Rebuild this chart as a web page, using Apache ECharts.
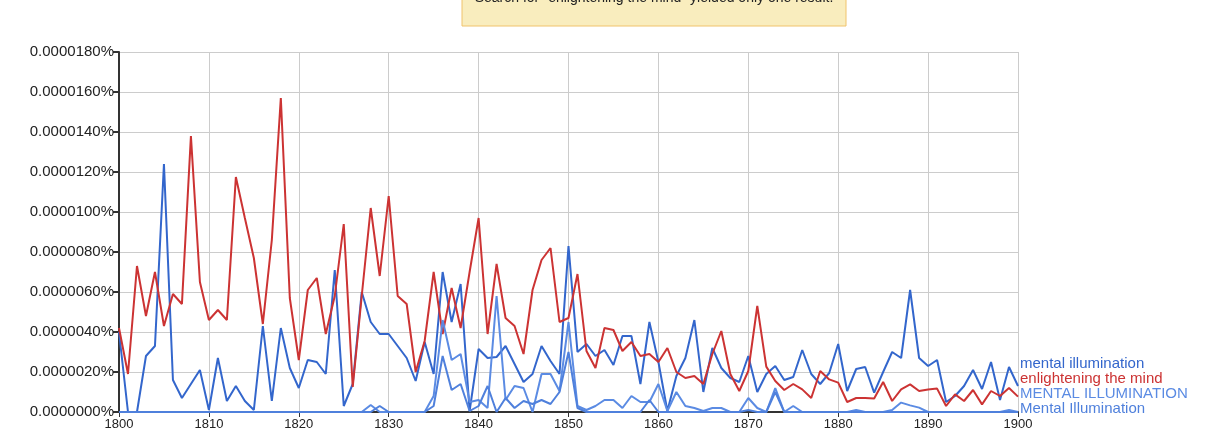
<!DOCTYPE html>
<html><head><meta charset="utf-8">
<script src="https://cdn.jsdelivr.net/npm/echarts@6/dist/echarts.min.js"></script>
<style>html,body{margin:0;padding:0;background:#fff}#c{width:1225px;height:445px}</style>
</head><body><div id="c"></div>
<script>
// Values are in units of 0.0000001 %
const startYear = 1800, endYear = 1900;
const years = [];
for (let y = startYear; y <= endYear; y++) years.push(y);

const seriesNames = ['mental illumination', 'enlightening the mind', 'MENTAL ILLUMINATION', 'Mental Illumination'];

const mentalIllumination = [40,0,0,28,33,124,16,7,14,21,
 1,27,5.5,13,5.5,1,43,5.5,42,22,
 12,26,25,19,71,3,14,60,45,39,
 39,33,27,15.5,35,19,70,45,64,0.5,
 31.5,27,27.5,33,24,15,19,33,25.5,19,
 83,30,34,28,31,23.5,38,38,14,45,
 25,0.5,18,27,46,10,32,22,17,15,
 28,10,19,23,16,17.5,31,19,14,19.5,
 34,10.5,21.5,22.5,9.7,20,30,27,61,27,
 23,26,5,8,13,21,11.5,25,6,22.5,
 13];

const enlighteningTheMind = [42,19,73,48,70,43,59,54,138,65,
 46,51,46,117.5,97,77,44,86,157,57,
 26,61,67,39,58,94,12.5,58,102,68,
 108,58,54,20,35.5,70,39,62,42,70,
 97,39,74,47,43,29,61,76,82,45,
 47,69,30.5,22,42,41,30.5,35,28,29,
 25,32,20,17,18,14,29,40.5,19,10.5,
 20.5,53,22.7,15.5,11,14,11.3,7,20.5,16.3,
 14.7,5,7,7,6.7,15,5.5,11.3,13.8,10.5,
 11.3,11.7,3,8.8,5.5,11,3.8,10.5,8,12,
 7.7];

const mentalIlluminationUpper = [0,0,0,0,0,0,0,0,0,0,
 0,0,0,0,0,0,0,0,0,0,
 0,0,0,0,0,0,0,0,3.5,0,
 0,0,0,0,0,8,46,26,29,5,
 6,2,58,6,13,12,0,19,19,10.5,
 45,3,1,3,6,6,2,8,5,5,
 14,0.5,10,3,2,0.5,2,2,0,0,
 7,2,0,12,0,3,0,0,0,0,
 0,0,1,0,0,0,1,4.7,3.3,2.2,
 0,0,0,0,0,0,0,0,0,1,
 0];

const mentalIlluminationTitle = [0,0,0,0,0,0,0,0,0,0,
 0,0,0,0,0,0,0,0,0,0,
 0,0,0,0,0,0,0,0,0,3,
 0,0,0,0,0,3,28,11,14,0.5,
 3,13,0,7,2,5.5,4,6,4,10,
 30,2,0,0,0,0,0,0,0,6,
 0,0,0,0,0,0,0,0,0,0,
 1,0,0,10,0,0,0,0,0,0,
 0,0,0,0,0,0,0,0,0,0,
 0,0,0,0,0,0,0,0,0,0,
 0];

const seriesData = [mentalIllumination, enlighteningTheMind, mentalIlluminationUpper, mentalIlluminationTitle];
const colors = ['#3366cc', '#cc3333', '#5b8be3', '#4f80dc'];

const yTickMin = 0, yTickMax = 180, yTickStep = 20;
const xTickStep = 10;

const chart = echarts.init(document.getElementById('c'), null, {renderer: 'canvas'});
const font = 'Liberation Sans, Arial, sans-serif';

const series = seriesData.map((arr, i) => ({
  name: seriesNames[i],
  type: 'line',
  data: arr.map((v, j) => [years[j], v]),
  symbol: 'none',
  clip: false,
  lineStyle: {color: colors[i], width: 2},
  itemStyle: {color: colors[i]},
  z: 2 + i
}));

const labelY = [364, 379, 394, 409];

chart.setOption({
  animation: false,
  grid: {left: 119, top: 52, width: 899, height: 360, containLabel: false},
  xAxis: {
    type: 'value', min: startYear, max: endYear, interval: xTickStep,
    axisLine: {show: true, onZero: false, lineStyle: {color: '#333', width: 2}},
    axisTick: {show: true, length: 5, lineStyle: {color: '#333', width: 1}},
    axisLabel: {color: '#222', fontSize: 13, fontFamily: font, margin: 6, formatter: v => String(v)},
    splitLine: {show: true, lineStyle: {color: '#cccccc', width: 1}}
  },
  yAxis: {
    type: 'value', min: yTickMin, max: yTickMax, interval: yTickStep,
    axisLine: {show: true, lineStyle: {color: '#333', width: 2}},
    axisTick: {show: true, length: 6, lineStyle: {color: '#333', width: 2}},
    axisLabel: {color: '#222', fontSize: 15, fontFamily: font, margin: 5,
      formatter: v => (v / 1e7).toFixed(7) + '%'},
    splitLine: {show: true, lineStyle: {color: '#cccccc', width: 1}}
  },
  series: series,
  graphic: [
    {type: 'rect', shape: {x: 462, y: -10, width: 384, height: 36},
     style: {fill: '#f9edbe', stroke: '#f0c36d', lineWidth: 1}, z: 10},
    {type: 'text', x: 654, y: -2, z: 11,
     style: {text: 'Search for "enlightening the mind" yielded only one result.',
       align: 'center', verticalAlign: 'middle', font: '14px ' + font, fill: '#222'}}
  ].concat(seriesNames.map((n, i) => ({
    type: 'text', x: 1020, y: labelY[i], z: 11,
    style: {text: n, align: 'left', verticalAlign: 'middle', font: '15px ' + font, fill: colors[i]}
  })))
});
</script>
</body></html>
